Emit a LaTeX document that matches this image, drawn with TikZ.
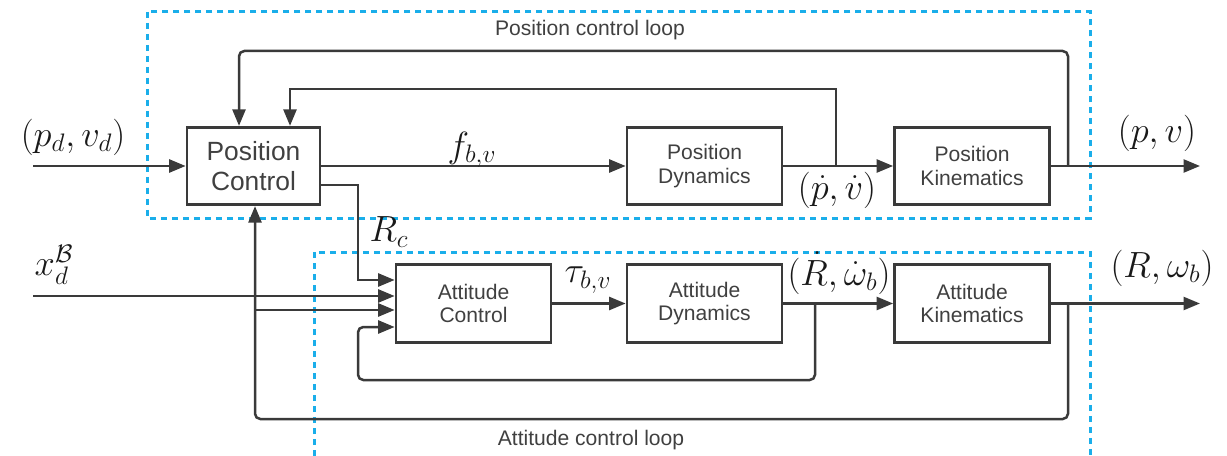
\documentclass[tikz,border=0pt]{standalone}
\usepackage{fontspec}
\setsansfont{Liberation Sans}
\usetikzlibrary{arrows.meta,calc}
\definecolor{ln}{HTML}{3A3A3A}
\definecolor{txt}{HTML}{404040}
\definecolor{loopblue}{HTML}{1AAEEA}
\begin{document}
\begin{tikzpicture}[x=0.02cm,y=-0.02cm,
  blk/.style={draw=ln, line width=0.055cm, text=txt, font=\sffamily\fontsize{12}{13.5}\selectfont,
    align=center, inner sep=0pt, minimum width=3.1cm, minimum height=1.55cm},
  bigblk/.style={blk, font=\sffamily\fontsize{15}{17}\selectfont, minimum width=2.66cm},
  wire/.style={draw=ln, line width=0.05cm},
  arr/.style={wire, -{Triangle[length=0.33cm,width=0.26cm]}},
  looplbl/.style={text=txt, font=\sffamily\fontsize{12}{14}\selectfont, inner sep=0pt},
  mlbl/.style={text=black!90, font=\fontsize{20.74}{24}\selectfont, inner sep=0pt},
  loopbox/.style={draw=loopblue, line width=0.06cm, dash pattern=on 0.12cm off 0.1cm}]
\useasboundingbox (0,0) rectangle (1227,456);

% loop boxes
\draw[loopbox] (147,12) rectangle (1090,218);
\draw[loopbox] (314,456) -- (314,252) -- (1090,252) -- (1090,456);
\node[looplbl] (plooplbl) at (590,30) {Position control loop};
\node[looplbl] (alooplbl) at (591,440) {Attitude control loop};

% blocks
\node[bigblk] (pc) at (253.5,166) {Position\\Control};
\node[blk] (pd) at (704.5,166) {Position\\Dynamics};
\node[blk] (pk) at (972,166) {Position\\Kinematics};
\node[blk] (ac) at (473.5,303.5) {Attitude\\Control};
\node[blk] (ad) at (704.5,303.5) {Attitude\\Dynamics};
\node[blk] (ak) at (972,303.5) {Attitude\\Kinematics};

% coordinates
\coordinate (pdin) at (33,166);
\coordinate (pout) at (1200,166);
\coordinate (j1) at (836,166);
\coordinate (fb1) at (290,89);
\coordinate (j2) at (1068,166);
\coordinate (fb2) at (239,51);
\coordinate (rcc) at (358,280);
\coordinate (xin) at (33,296);
\coordinate (j3) at (1068,303.5);
\coordinate (fb3) at (255,419);
\coordinate (j4) at (255,310);
\coordinate (j5) at (815,303.5);
\coordinate (fb5) at (358,380);
\coordinate (aout) at (1200,303.5);

% position loop connectors
\draw[arr] (pdin) -- (pc.west);
\draw[arr] (pc.east) -- (pd.west);
\draw[arr] (pd.east) -- (pk.west);
\draw[arr] (pk.east) -- (pout);
\draw[arr] (j1) |- (fb1) -- (fb1 |- pc.north);
\draw[arr, rounded corners=3pt] (j2) |- (fb2) -- (fb2 |- pc.north);

% coupling
\draw[arr] ($(pc.east)+(0,19)$) -| (rcc) -- (rcc -| ac.west);
\draw[arr] (xin) -- (xin -| ac.west);
\draw[arr, rounded corners=3pt] (j3) |- (fb3) -- (fb3 |- pc.south);
\draw[arr] (j4) -- (j4 -| ac.west);

% attitude loop connectors
\draw[arr] (ac.east) -- (ad.west);
\draw[arr] (ad.east) -- (ak.west);
\draw[arr] (ak.east) -- (aout);
\draw[arr, rounded corners=3pt] (j5) |- (fb5) |- ($(ac.west)+(0,23.5)$);

% math labels
\node[mlbl] (l1) at (73,137) {$(p_d,v_d)$};
\node[mlbl] (l2) at (472,150) {$f_{b,v}$};
\node[mlbl] (l3) at (837,190) {$(\dot p,\dot v)$};
\node[mlbl] (l4) at (1157,133) {$(p,v)$};
\node[mlbl] (l5) at (389,232) {$R_c$};
\node[mlbl] (l6) at (54,265) {$x_d^{\mathcal{B}}$};
\node[mlbl] (l7) at (588,280) {$\tau_{b,v}$};
\node[mlbl] (l8) at (839,273) {$(\dot R,\dot\omega_b)$};
\node[mlbl] (l9) at (1162,268) {$(R,\omega_b)$};
\end{tikzpicture}
\end{document}
